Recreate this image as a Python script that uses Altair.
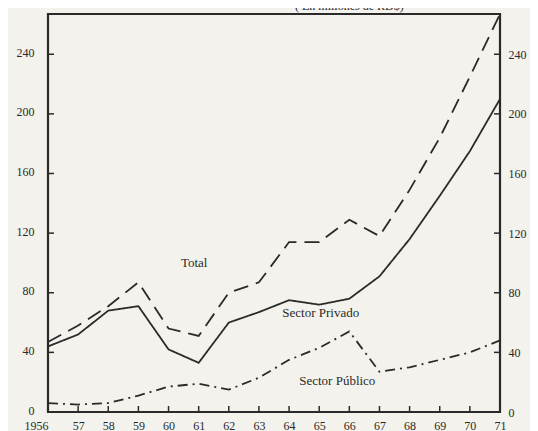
import altair as alt
import pandas as pd

years = list(range(1956, 1972))
total = [47, 58, 71, 87, 56, 51, 80, 87, 114, 114, 129, 118, 149, 184, 225, 267]
privado = [44, 52, 68, 71, 42, 33, 60, 67, 75, 72, 76, 91, 116, 145, 175, 210]
publico = [6, 5, 6, 11, 17, 19, 15, 23, 35, 43, 54, 27, 30, 35, 40, 48]

y_ticks = [0, 40, 80, 120, 160, 200, 240]
x_ticks = list(range(1957, 1971))

label_text = ["Total", "Sector Privado", "Sector Público"]
label_year = [1960.85, 1965.05, 1965.6]
label_val = [100, 66.5, 20.5]

title_text = "( En millones de RD$)"

W, H = 452, 398
INK = "#2a2a2a"
FONT = "Liberation Serif"

rows = []
for name, vals in [("Total", total), ("Privado", privado), ("Publico", publico)]:
    for yr, v in zip(years, vals):
        rows.append({"year": yr, "value": v, "serie": name})
df = pd.DataFrame(rows)

xs = alt.Scale(domain=[1956, 1971], nice=False, zero=False)
ys = alt.Scale(domain=[0, 267], nice=False)

x_axis = alt.Axis(values=years, title=None, ticks=False, domain=False, grid=False,
                  labelOverlap=False, labelBound=False,
                  labelExpr="datum.value == 1956 ? '1956' : substring(toString(datum.value), 2, 4)",
                  labelAlign={"condition": {"test": "datum.value == 1956", "value": "right"}, "value": "center"},
                  labelPadding=8, labelFont=FONT, labelFontSize=12, labelColor=INK)
y_axis_left = alt.Axis(values=y_ticks, title=None, ticks=False, domain=False, grid=False,
                       labelOverlap=False, labelPadding=14, labelOffset=-2, labelFont=FONT,
                       labelFontSize=12, labelColor=INK)
y_axis_right = alt.Axis(orient="right", values=y_ticks, title=None, ticks=False, domain=False,
                        grid=False, labelOverlap=False, labelPadding=8, labelFont=FONT,
                        labelFontSize=12, labelColor=INK)


def line(name, dash, first=False):
    return alt.Chart(df[df.serie == name]).mark_line(
        color=INK, strokeWidth=1.8, strokeDash=dash
    ).encode(
        x=alt.X("year:Q", scale=xs, axis=x_axis),
        y=alt.Y("value:Q", scale=ys, axis=y_axis_left if first else None),
    )


l_total = line("Total", [15, 8], first=True)
l_priv = line("Privado", [1, 0])
l_pub = line("Publico", [10, 5, 2, 5])

right_axis = alt.Chart(pd.DataFrame({"v": y_ticks})).mark_rule(color=INK, strokeWidth=1.5).encode(
    x=alt.value(W - 6), x2=alt.value(W),
    y=alt.Y("v:Q", scale=ys, axis=y_axis_right),
)
left_ticks = alt.Chart(pd.DataFrame({"v": y_ticks})).mark_rule(color=INK, strokeWidth=1.5).encode(
    x=alt.value(0), x2=alt.value(6), y=alt.Y("v:Q", scale=ys, axis=None),
)
bottom_ticks = alt.Chart(pd.DataFrame({"year": x_ticks})).mark_rule(color=INK, strokeWidth=1.5).encode(
    y=alt.value(H), y2=alt.value(H - 6), x=alt.X("year:Q", scale=xs, axis=x_axis),
)

labels = alt.Chart(pd.DataFrame({"t": label_text, "year": label_year, "v": label_val})).mark_text(
    font=FONT, fontSize=13, color=INK
).encode(
    x=alt.X("year:Q", scale=xs, axis=x_axis),
    y=alt.Y("v:Q", scale=ys, axis=None),
    text="t:N",
)

title = alt.Chart(pd.DataFrame({"t": [title_text]})).mark_text(
    font=FONT, fontSize=12, color=INK, baseline="bottom", align="left"
).encode(x=alt.value(247), y=alt.value(-1), text="t:N")

chart = alt.layer(
    l_total, right_axis, l_priv, l_pub, left_ticks, bottom_ticks, labels, title
).resolve_axis(y="independent").properties(
    width=W, height=H,
    autosize=alt.AutoSizeParams(type="none"),
    padding={"left": 40, "top": 6, "right": 30, "bottom": 19},
    background="#f4f2ec",
).configure_view(stroke=INK, strokeWidth=2.2)

chart.save("out.html", embed_options={"renderer": "svg", "actions": False})
